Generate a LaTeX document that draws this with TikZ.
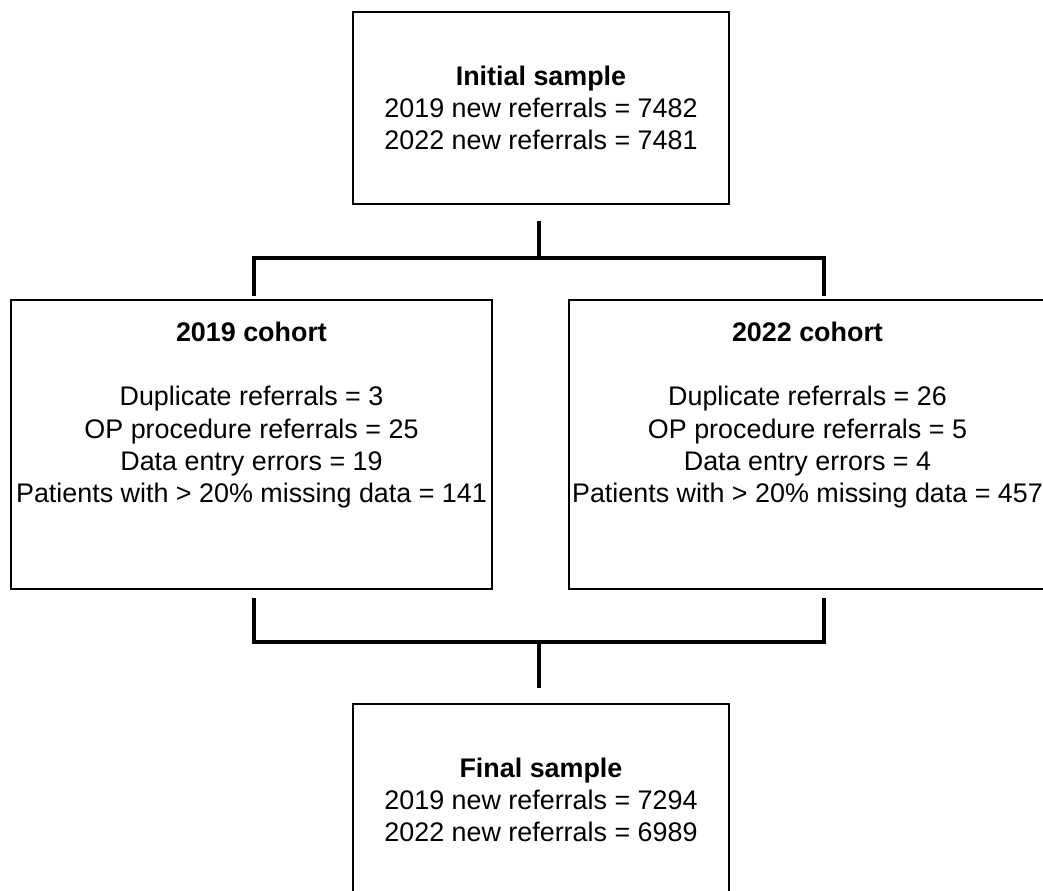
\documentclass[tikz,border=0pt]{standalone}
\usepackage{fontspec}
\setmainfont{Liberation Sans}
\usetikzlibrary{positioning}

\tikzset{
  box/.style={draw, line width=1pt, inner sep=0pt, align=center,
              font=\fontsize{15.3pt}{18.4pt}\selectfont},
  link/.style={line width=1.8pt}
}

\begin{document}
\begin{tikzpicture}

\useasboundingbox (0,0) rectangle (20.86,17.8);
\clip (0,0) rectangle (20.86,17.8);

%boxes
\node[box, minimum width=7.52cm, minimum height=3.84cm] (init) at (10.82,15.64)
  {\textbf{Initial sample}\\ 2019 new referrals = 7482\\ 2022 new referrals = 7481};
%
\node[box, minimum width=9.62cm, minimum height=5.78cm] (c19) at (5.03,8.91)
  {\textbf{2019 cohort}\\ \mbox{}\\ Duplicate referrals = 3\\ OP procedure referrals = 25\\
   Data entry errors = 19\\ Patients with > 20\% missing data = 141\\ \mbox{}\\ \mbox{}};
\node[box, minimum width=9.54cm, minimum height=5.78cm] (c22) at (16.15,8.91)
  {\textbf{2022 cohort}\\ \mbox{}\\ Duplicate referrals = 26\\ OP procedure referrals = 5\\
   Data entry errors = 4\\ Patients with > 20\% missing data = 457\\ \mbox{}\\ \mbox{}};
%
\node[box, minimum width=7.52cm, minimum height=3.84cm] (final) at (10.82,1.80)
  {\textbf{Final sample}\\ 2019 new referrals = 7294\\ 2022 new referrals = 6989};

%junctions
\coordinate (split)  at (10.78,12.64);
\coordinate (lsplit) at (5.08,12.64);
\coordinate (rsplit) at (16.48,12.64);
%
\coordinate (join)   at (10.78,4.96);
\coordinate (ljoin)  at (5.08,4.96);
\coordinate (rjoin)  at (16.48,4.96);

%connectors
\draw [link, shorten <=0.32cm]                  (init.south -| split)--(split);
\draw [link, shorten <=0.06cm, shorten >=0.06cm] (c19.north -| lsplit)--(lsplit)--(rsplit)--(c22.north -| rsplit);
%
\draw [link, shorten <=0.16cm, shorten >=0.16cm] (c19.south -| ljoin)--(ljoin)--(rjoin)--(c22.south -| rjoin);
\draw [link, shorten >=0.3cm]                   (join)--(final.north -| join);

\end{tikzpicture}
\end{document}
